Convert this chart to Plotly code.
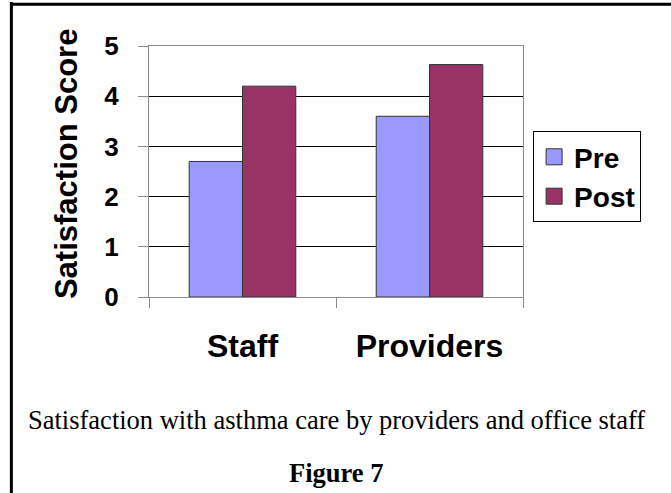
import plotly.graph_objects as go

# Survey results: mean satisfaction score before and after the intervention
categories = ["Staff", "Providers"]
pre_scores = [2.7, 3.6]
post_scores = [4.2, 4.63]
series_names = ["Pre", "Post"]
y_ticks = [0, 1, 2, 3, 4, 5]

SANS = "Liberation Sans, Arial, sans-serif"
SERIF = "Liberation Serif, Times New Roman, serif"
PRE_COLOR = "#9999FF"
POST_COLOR = "#993366"
OUTLINE = "#333333"
AXIS_GRAY = "#8c8c8c"

fig = go.Figure()
for name, values, color in [(series_names[0], pre_scores, PRE_COLOR),
                            (series_names[1], post_scores, POST_COLOR)]:
    fig.add_trace(go.Bar(
        x=categories, y=values, name=name, showlegend=False,
        marker=dict(color=color, line=dict(color=OUTLINE, width=1)),
    ))

# Legend keys drawn as larger square swatches
for name, color in [(series_names[0], PRE_COLOR), (series_names[1], POST_COLOR)]:
    fig.add_trace(go.Scatter(
        x=[None], y=[None], mode="markers", name=name, legendgroup=name,
        marker=dict(symbol="square", size=16, color=color,
                    line=dict(color=OUTLINE, width=1)),
        hoverinfo="skip",
    ))

# Page frame lines (top and left edges)
frame = dict(color="black", width=3)
fig.add_shape(type="line", xref="paper", yref="paper",
              x0=-0.368, x1=1.5, y0=1.166, y1=1.166, line=frame)
fig.add_shape(type="line", xref="paper", yref="paper",
              x0=-0.368, x1=-0.368, y0=1.175, y1=-0.9, line=frame)

# Vertical axis title
fig.add_annotation(
    text="<b>Satisfaction Score</b>",
    xref="paper", yref="paper", x=-0.219, y=0.53, textangle=-90,
    xanchor="center", yanchor="middle", showarrow=False,
    font=dict(family=SANS, size=31, color="black"),
)

# Caption below the chart
fig.add_annotation(
    text="Satisfaction with asthma care by providers and office staff",
    xref="paper", yref="paper", x=0.5, y=-0.49,
    xanchor="center", yanchor="middle", showarrow=False,
    font=dict(family=SERIF, size=26.5, color="black"),
)
fig.add_annotation(
    text="<b>Figure 7</b>",
    xref="paper", yref="paper", x=0.5, y=-0.70,
    xanchor="center", yanchor="middle", showarrow=False,
    font=dict(family=SERIF, size=26.5, color="black"),
)

fig.update_layout(
    width=671, height=493,
    margin=dict(l=149, r=148, t=46, b=196),
    paper_bgcolor="white", plot_bgcolor="white",
    barmode="group", bargap=0.43, bargroupgap=0,
    showlegend=True,
    legend=dict(
        x=1.027, y=0.661, xanchor="left", yanchor="top",
        bordercolor="black", borderwidth=1, bgcolor="white",
        font=dict(family=SANS, size=28, color="black", weight="bold"),
        tracegroupgap=1, traceorder="normal",
    ),
    xaxis=dict(
        type="category",
        showline=True, linecolor=AXIS_GRAY, linewidth=1, mirror=True,
        ticks="outside", tickson="boundaries", ticklen=10, tickcolor=AXIS_GRAY,
        ticklabelstandoff=21,
        tickfont=dict(family=SANS, size=32, color="black", weight="bold"),
        showgrid=False,
    ),
    yaxis=dict(
        range=[0, 5], tickvals=y_ticks,
        showline=True, linecolor=AXIS_GRAY, linewidth=1, mirror=True,
        ticks="outside", ticklen=10, tickcolor=AXIS_GRAY,
        ticklabelstandoff=14,
        tickfont=dict(family=SANS, size=26, color="black", weight="bold"),
        showgrid=True, gridcolor="black", gridwidth=1, zeroline=False,
    ),
)

fig.write_html("out.html")
